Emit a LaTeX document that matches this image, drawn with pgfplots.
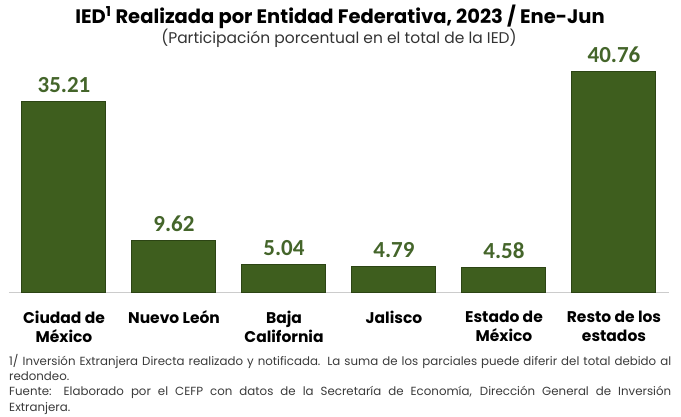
\documentclass[border=0pt]{standalone}
\usepackage{pgfplots}
\pgfplotsset{compat=1.18}
\usepackage{fontspec}
\setmainfont{Poppins}
\newfontfamily\calfont{Carlito}
\definecolor{barg}{HTML}{3E5E1E}
\definecolor{bard}{HTML}{2C4414}
\definecolor{labg}{HTML}{44652A}
\definecolor{foot}{HTML}{3A3A3A}
\begin{document}
\begin{tikzpicture}[x=1pt,y=1pt]
\path[use as bounding box] (0,0) rectangle (681,-417);
\node[font=\fontsize{19.5}{22}\selectfont\bfseries] at (340,-17) {IED\textsuperscript{1} Realizada por Entidad Federativa, 2023 / Ene-Jun};
\node[font=\fontsize{15.5}{18}\selectfont, text=black!80] at (339,-38) {(Participación porcentual en el total de la IED)};
\begin{axis}[
  at={(9pt,-292pt)}, anchor=south west,
  scale only axis, width=660pt, height=243pt,
  xmin=-0.5, xmax=5.5, ymin=0, ymax=45,
  axis y line=none, axis x line*=bottom,
  x axis line style={draw=black!20, -},
  xtick=data, xtick style={draw=none},
  xticklabels={{Ciudad de\\México},{Nuevo León},{Baja\\California},{Jalisco},{Estado de\\México},{Resto de los\\estados}},
  xticklabel style={align=center, font=\fontsize{15.5}{19.5}\selectfont\bfseries, anchor=north, yshift=-11pt},
  ybar, bar width=84pt,
  nodes near coords,
  every node near coord/.append style={font=\calfont\fontsize{23}{26}\selectfont\bfseries, text=labg, yshift=5pt},
  nodes near coords style={/pgf/number format/.cd, fixed, fixed zerofill, precision=2, assume math mode=true},
  clip=false,
]
\addplot[fill=barg, draw=bard, line width=1pt] coordinates {(0,35.21) (1,9.62) (2,5.04) (3,4.79) (4,4.58) (5,40.76)};
\end{axis}
\node[anchor=north west, text width=662pt, align=justify, inner sep=0pt, font=\fontsize{11.8}{15.3}\selectfont, text=foot] at (9,-354) {1/ Inversión Extranjera Directa realizado y notificada. La suma de los parciales puede diferir del total debido al\linebreak redondeo.\\
Fuente: Elaborado por el CEFP con datos de la Secretaría de Economía, Dirección General de Inversión\linebreak Extranjera.};
\end{tikzpicture}
\end{document}
